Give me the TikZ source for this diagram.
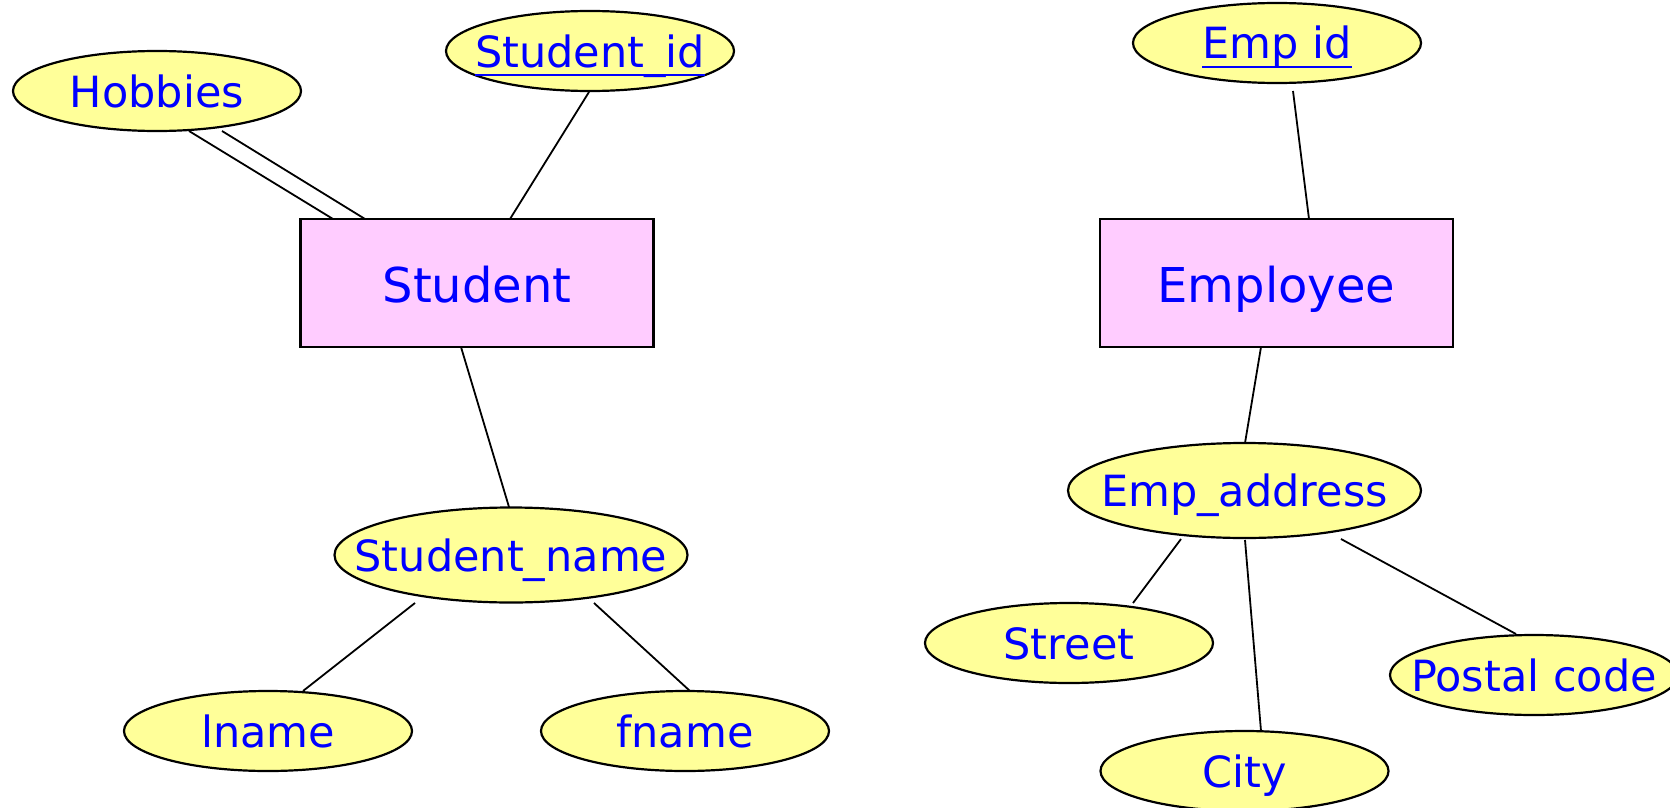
\documentclass[tikz,border=0pt]{standalone}
\usepackage{fontspec}
\setmainfont{DejaVu Sans}
\usetikzlibrary{shapes.geometric,calc}
\definecolor{attrfill}{HTML}{FFFF99}
\definecolor{entfill}{HTML}{FFCCFF}
\definecolor{txtblue}{HTML}{0000FF}
\newcommand\zw[1]{\makebox[0pt]{#1}}
\newcommand\keyul[1]{\setbox0\hbox{#1}\rlap{\rule[-0.22em]{\wd0}{0.065em}}\box0}
\tikzset{
  attr/.style={ellipse, draw=black, line width=2.2pt, fill=attrfill,
    minimum width=288pt, minimum height=80pt, inner sep=0pt, text=txtblue,
    font=\fontsize{43}{50}\selectfont, text height=40pt, text depth=8pt},
  bigattr/.style={attr, minimum width=353pt, minimum height=95pt},
  ent/.style={rectangle, draw=black, line width=2.2pt, fill=entfill,
    minimum width=353pt, minimum height=128pt, inner sep=0pt, text=txtblue,
    font=\fontsize{48}{58}\selectfont, text height=46pt, text depth=8pt},
  conn/.style={draw=black, line width=1.8pt}
}
\begin{document}
\begin{tikzpicture}[x=1pt,y=-1pt]
\useasboundingbox (0,0) rectangle (1670,808);
\clip (0,0) rectangle (1670,808);
\fill[white] (0,0) rectangle (1670,808);
% nodes
\node[attr] (hob) at (157,91) {\zw{Hobbies}};
\node[attr] (sid) at (590,51) {\zw{\keyul{Student\_id}}};
\node[ent] (stu) at (477,283) {Student};
\node[bigattr] (sname) at (511,555) {\zw{Student\_name}};
\node[attr] (lname) at (268,731) {\zw{lname}};
\node[attr] (fname) at (685,731) {\zw{fname}};
\node[attr] (eid) at (1277,43) {\zw{\keyul{Emp id}}};
\node[ent] (emp) at (1276.5,283) {Employee};
\node[bigattr] (eaddr) at (1244.5,490.5) {\zw{Emp\_address}};
\node[attr] (street) at (1069,643) {\zw{Street}};
\node[attr] (city) at (1244.5,771) {\zw{City}};
\node[attr] (postal) at (1534,675) {\zw{Postal code}};
% connectors
\draw[conn] ($(hob)+(32,40)$) -- ($(stu)+(-144,-64)$);
\draw[conn] ($(hob)+(65,40)$) -- ($(stu)+(-112,-64)$);
\draw[conn] ($(sid)+(-1,41)$) -- ($(stu)+(33,-64)$);
\draw[conn] ($(stu)+(-16,64)$) -- ($(sname)+(-2,-48)$);
\draw[conn] ($(sname)+(-96,48)$) -- ($(lname)+(35,-40)$);
\draw[conn] ($(sname)+(83,48)$) -- ($(fname)+(5,-40)$);
\draw[conn] ($(eid)+(16,48)$) -- ($(emp)+(32.5,-64)$);
\draw[conn] ($(emp)+(-15.5,64)$) -- ($(eaddr)+(0.5,-47.5)$);
\draw[conn] ($(eaddr)+(-63.5,48.5)$) -- ($(street)+(64,-40)$);
\draw[conn] ($(eaddr)+(0.5,49.5)$) -- ($(city)+(16.5,-40)$);
\draw[conn] ($(eaddr)+(96.5,48.5)$) -- ($(postal)+(-18,-41)$);
\end{tikzpicture}
\end{document}
